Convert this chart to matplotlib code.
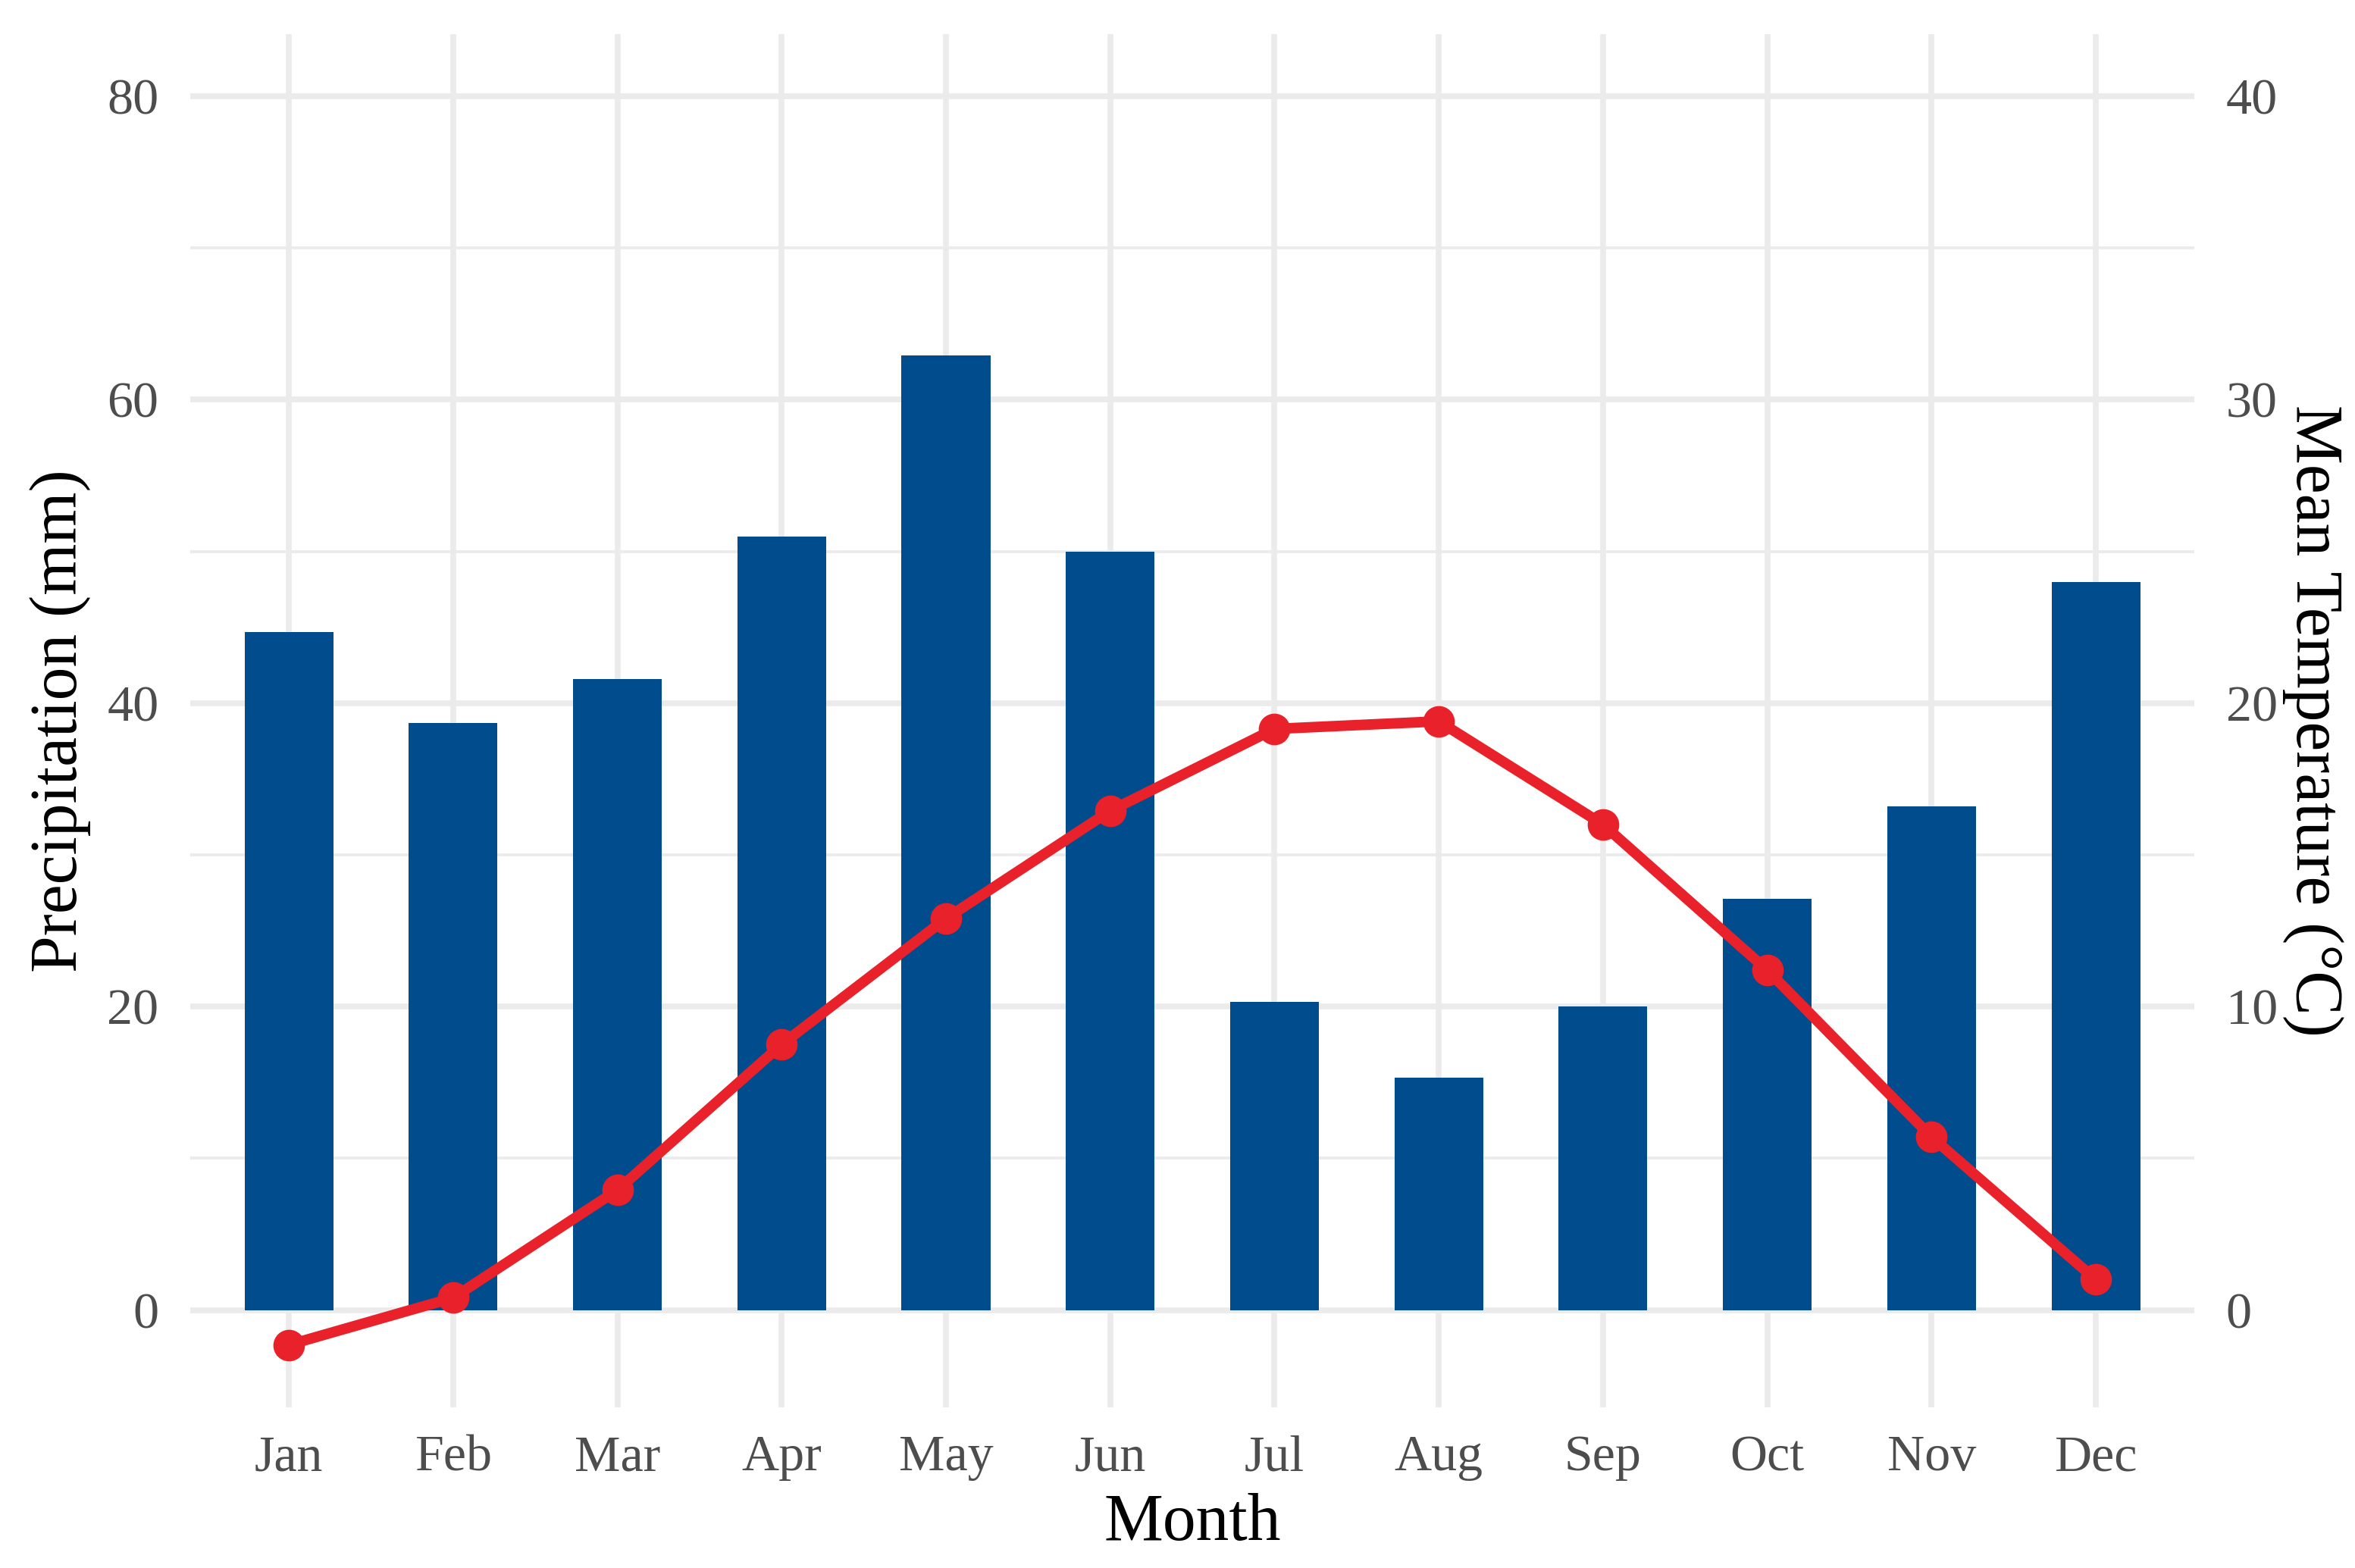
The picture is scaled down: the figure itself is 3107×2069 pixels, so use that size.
import matplotlib
matplotlib.use("Agg")
import matplotlib.pyplot as plt
import numpy as np

months = ["Jan", "Feb", "Mar", "Apr", "May", "Jun", "Jul", "Aug", "Sep", "Oct", "Nov", "Dec"]
precip = [44.7, 38.7, 41.6, 51.0, 62.9, 50.0, 20.3, 15.3, 20.0, 27.1, 33.2, 48.0]
temp = [-1.15, 0.4, 3.95, 8.75, 12.9, 16.45, 19.15, 19.4, 16.0, 11.2, 5.7, 1.0]
left_ticks = [0, 20, 40, 60, 80]
right_ticks = [0, 10, 20, 30, 40]

plt.rcParams['font.family'] = ['Liberation Serif', 'DejaVu Serif']

BAR = '#004C8C'
RED = '#E8212A'
GRID = '#EBEBEB'

fig = plt.figure(figsize=(31.07, 20.69), dpi=100)
ax = fig.add_axes([0.0808, 0.1025, 0.851, 0.8759])
x = np.arange(1, 13)

ax.bar(x, precip, width=0.54, color=BAR, zorder=2)

ymin, ymax = -6.415, 84.115
ax.set_ylim(ymin, ymax)
ax.set_xlim(0.4, 12.6)
ax.set_xticks(x)
ax.set_xticklabels(months)
ax.set_yticks(left_ticks)
ax.set_yticks([10, 30, 50, 70], minor=True)

ax.grid(True, which='major', axis='both', color=GRID, linewidth=5.5, zorder=0)
ax.grid(True, which='minor', axis='y', color=GRID, linewidth=2.8, zorder=0)
ax.set_axisbelow(True)
for s in ax.spines.values():
    s.set_visible(False)
ax.tick_params(axis='both', which='both', length=0, labelsize=49, labelcolor='#4D4D4D')
ax.tick_params(axis='y', pad=30)
ax.tick_params(axis='x', pad=26)

ax2 = ax.twinx()
ax2.set_ylim(ymin / 2, ymax / 2)
ax2.plot(x, temp, color=RED, linewidth=10, marker='o', markersize=29, zorder=3)
ax2.set_yticks(right_ticks)
for s in ax2.spines.values():
    s.set_visible(False)
ax2.tick_params(axis='y', length=0, labelsize=49, labelcolor='#4D4D4D', pad=30)
ax2.grid(False)

ax.set_xlabel("Month", fontsize=63, color='black')
ax.xaxis.set_label_coords(0.5, -0.085)
ax.xaxis.label.set_va('center')

ax.set_ylabel("Precipitation (mm)", fontsize=63, color='black')
ax.yaxis.set_label_coords(-0.065, 0.5)
ax.yaxis.label.set_va('center')

ax2.set_ylabel("Mean Temperature (°C)", fontsize=63, color='black', rotation=-90)
ax2.yaxis.set_label_coords(1.059, 0.5)
ax2.yaxis.label.set_va('center')
ax2.yaxis.label.set_rotation_mode('anchor')

fig.savefig("out.png", dpi=100, facecolor='white')
